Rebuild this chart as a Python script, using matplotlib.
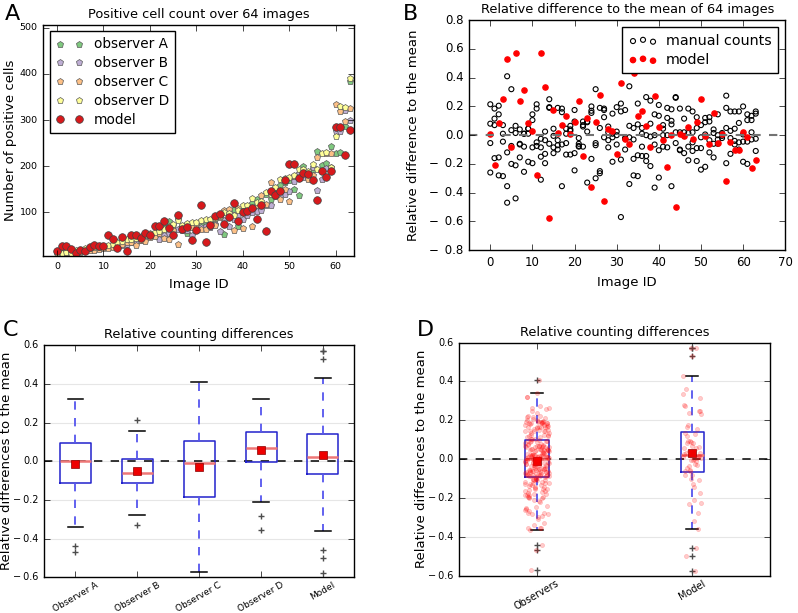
import numpy as np
import matplotlib
matplotlib.use('Agg')
import matplotlib.pyplot as plt
from matplotlib.ticker import FuncFormatter

plt.style.use('classic')
plt.rcParams['font.family'] = ['DejaVu Sans']

# ---- panel A: counts per image (sorted by mean count) ----
model_counts = [16.5, 27, 28, 21, 13, 19.5, 16.5, 25, 30, 27, 27, 50, 42, 23, 46, 16.5,
                51, 50, 45, 55, 52, 71, 70, 82, 66, 52, 95, 65, 68, 40, 61, 115,
                36, 72, 93, 97, 74, 90, 121, 81, 100, 104, 110, 85, 116, 59, 146, 137,
                147, 170, 204, 205, 174, 186, 183, 170, 126, 189, 176, 189, 284, 286, 224, 278]
obs_a_counts = [13, 14, 10, 15, 17, 17, 20, 21, 22, 24, 25, 26, 29, 35, 33, 38,
                38, 42, 45, 50, 52, 55, 62, 68, 81, 72, 85, 70, 56, 75, 70, 72,
                80, 78, 85, 97, 53, 105, 108, 71, 108, 112, 120, 129, 120, 140, 128, 150,
                160, 165, 171, 151, 137, 200, 180, 195, 234, 202, 206, 243, 228, 230, 288, 385]
obs_b_counts = [14, 12, 15, 14, 15, 16, 18, 20, 21, 22, 24, 24, 27, 32, 30, 31,
                35, 38, 40, 44, 48, 50, 42, 50, 55, 60, 65, 62, 62, 50, 62, 68,
                70, 68, 75, 59, 84, 71, 85, 95, 86, 95, 100, 104, 106, 115, 117, 142,
                135, 140, 146, 168, 186, 176, 176, 198, 149, 173, 196, 198, 277, 277, 322, 300]
obs_c_counts = [15, 15, 13, 16, 14, 15, 17, 18, 19, 21, 22, 22, 25, 29, 31, 36,
                36, 30, 41, 39, 47, 49, 55, 45, 43, 62, 31, 68, 75, 68, 75, 65,
                65, 70, 72, 90, 106, 108, 61, 110, 67, 110, 71, 115, 137, 119, 165, 135,
                130, 150, 124, 178, 175, 185, 173, 180, 221, 190, 228, 228, 335, 320, 297, 327]
obs_d_counts = [11, 11, 14, 13, 18, 19, 22, 23, 25, 26, 28, 29, 32, 36, 37, 42,
                42, 44, 48, 52, 55, 58, 60, 65, 70, 75, 83, 72, 78, 80, 80, 84,
                85, 86, 88, 92, 100, 98, 94, 105, 116, 115, 132, 122, 125, 144, 140, 155,
                172, 175, 176, 182, 194, 195, 190, 204, 194, 229, 230, 198, 266, 331, 329, 391]

# ---- panel B: relative difference to the mean, by image ID ----
rel_model = [0.01, -0.21, 0.085, 0.25, 0.53, -0.08, 0.57, 0.24, 0.315, 0.085, 0.03, -0.275,
             0.57, 0.335, -0.575, 0.175, 0.015, 0.07, 0.135, 0.005, 0.095, 0.235, -0.145, 0.12,
             -0.36, 0.09, 0.28, -0.46, 0.04, 0.03, -0.13, 0.36, -0.03, -0.06, 0.43, 0.13,
             0.165, 0.065, -0.08, 0.275, 0.055, -0.035, -0.225, 0.0, -0.5, 0.01, -0.005, 0.055,
             -0.025, 0.095, 0.25, -0.005, -0.06, 0.155, -0.055, 0.005, -0.32, -0.045, -0.105, -0.1,
             0.025, -0.01, -0.23, -0.175]
rel_obs_a = [-0.26, 0.115, 0.145, 0.01, -0.47, 0.32, -0.44, -0.06, 0.01, 0.01, -0.085, -0.05,
             -0.15, -0.13, 0.19, -0.085, -0.035, 0.16, 0.01, 0.03, -0.125, -0.02, 0.07, 0.09,
             -0.165, -0.055, -0.25, 0.185, 0.02, 0.01, 0.195, 0.22, -0.02, -0.34, -0.165, 0.22,
             0.01, -0.18, 0.24, 0.0, -0.295, 0.0, 0.12, 0.1, -0.055, -0.105, 0.02, -0.08,
             0.165, 0.05, -0.24, 0.09, 0.095, -0.155, -0.03, 0.005, 0.275, -0.13, -0.065, -0.1,
             0.2, -0.2, 0.02, 0.15]
rel_obs_b = [-0.055, -0.16, -0.28, -0.045, -0.12, -0.075, 0.015, -0.065, 0.01, -0.185, -0.195, 0.215,
             -0.085, -0.035, -0.06, -0.125, -0.1, -0.065, -0.135, -0.135, 0.095, -0.08, -0.08, -0.33,
             0.155, -0.07, 0.05, 0.125, -0.085, -0.015, 0.025, -0.17, -0.1, -0.015, -0.03, -0.14,
             -0.145, -0.145, -0.01, -0.065, 0.135, -0.08, 0.0, 0.075, 0.02, 0.02, -0.125, 0.015,
             0.02, -0.09, -0.09, 0.005, -0.12, -0.06, -0.06, -0.02, -0.195, 0.03, -0.04, 0.085,
             0.005, 0.105, -0.03, -0.11]
rel_obs_c = [0.215, 0.07, 0.205, -0.285, 0.41, -0.2, 0.065, -0.155, -0.255, 0.045, 0.105, 0.185,
             -0.31, -0.195, 0.195, -0.005, -0.07, -0.355, -0.055, 0.04, -0.245, -0.075, 0.06, 0.025,
             0.17, -0.3, -0.265, 0.175, -0.035, -0.185, 0.0, -0.57, 0.175, 0.34, -0.28, 0.075,
             -0.08, 0.265, -0.215, -0.365, 0.21, 0.045, 0.19, -0.355, 0.265, 0.185, -0.005, -0.175,
             -0.05, -0.18, -0.015, -0.22, -0.035, 0.015, 0.0, -0.005, 0.19, -0.02, 0.045, -0.05,
             -0.185, -0.045, 0.105, -0.025]
rel_obs_d = [0.08, 0.185, -0.155, 0.07, -0.355, 0.035, -0.21, 0.04, -0.08, 0.045, 0.145, -0.075,
             -0.025, 0.025, 0.25, 0.045, 0.19, 0.185, 0.045, 0.065, 0.175, -0.06, 0.095, 0.095,
             0.2, 0.32, 0.19, -0.015, 0.06, 0.15, -0.065, 0.165, -0.025, 0.065, 0.05, -0.285,
             0.05, 0.0, 0.08, 0.145, -0.105, 0.07, -0.085, 0.18, 0.26, -0.1, 0.115, 0.185,
             -0.11, 0.125, 0.07, 0.12, 0.125, 0.04, 0.145, 0.015, 0.05, 0.165, 0.165, 0.165,
             -0.045, 0.145, 0.135, 0.165]

box_labels_c = ['Observer A', 'Observer B', 'Observer C', 'Observer D', 'Model']
box_labels_d = ['Observers', 'Model']
obs_names = ['observer A', 'observer B', 'observer C', 'observer D']
obs_colors = ['#7fc97f', '#beaed4', '#fdc086', '#ffff99']


def minus_fmt(gap):
    # old-style tick labels with a roomy minus sign
    def f(v, pos):
        if v < -1e-9:
            return '\u2212' + gap + '%.1f' % abs(v)
        return '%.1f' % abs(v)
    return FuncFormatter(f)


fig = plt.figure(figsize=(7.98, 6.13), dpi=100, facecolor='white')

# ---------------- A ----------------
axA = fig.add_axes([0.054, 0.582, 0.390, 0.378])
ids = np.arange(len(model_counts))
for counts, name, col in zip([obs_a_counts, obs_b_counts, obs_c_counts, obs_d_counts],
                             obs_names, obs_colors):
    axA.plot(ids, counts, 'p', color=col, markeredgecolor='0.35', markeredgewidth=0.5,
             markersize=5, label=name)
axA.plot(ids, model_counts, 'o', color='#d7191c', markeredgecolor='0.25', markeredgewidth=0.5,
         markersize=5.5, label='model')
axA.set_xlim(-3, 64)
axA.set_ylim(5, 507)
axA.set_yticks([100, 200, 300, 400, 500])
axA.set_title('Positive cell count over 64 images', fontsize=9.3)
axA.set_xlabel('Image ID', fontsize=9.5)
axA.set_ylabel('Number of positive cells', fontsize=9.5)
axA.yaxis.set_label_coords(-0.085, 0.5)
axA.tick_params(labelsize=6.8)
axA.legend(loc='upper left', fontsize=9.8, numpoints=2, handletextpad=0.8, borderpad=0.45,
           labelspacing=0.35, handlelength=2.0)

# ---------------- B ----------------
axB = fig.add_axes([0.588, 0.592, 0.396, 0.375])
manual_x = np.concatenate([ids] * 4)
manual_y = np.concatenate([rel_obs_a, rel_obs_b, rel_obs_c, rel_obs_d])
axB.scatter(manual_x, manual_y, s=13, facecolors='none', edgecolors='black', linewidths=0.8,
            label='manual counts')
axB.scatter(ids, rel_model, s=14, color='red', edgecolors='red', label='model')
axB.axhline(0, color='0.45', ls='--', lw=1.5)
axB.set_xlim(-5, 70)
axB.set_ylim(-0.8, 0.8)
axB.yaxis.set_major_formatter(minus_fmt('\u2002'))
axB.set_title('Relative difference to the mean of 64 images', fontsize=9.3)
axB.set_xlabel('Image ID', fontsize=9.5)
axB.set_ylabel('Relative difference to the mean', fontsize=9.5)
axB.yaxis.set_label_coords(-0.155, 0.5)
axB.tick_params(labelsize=8.5)
axB.legend(loc='upper right', fontsize=10.3, scatterpoints=3, handletextpad=0.6, borderpad=0.45,
           labelspacing=0.35)


def style_box(ax, data, widths):
    ax.yaxis.grid(True, color='0.9', ls='-', lw=0.8)
    ax.set_axisbelow(True)
    ax.axhline(0, color='black', ls='--', lw=1.1, zorder=1)
    ax.boxplot(data, widths=widths, showmeans=True,
               boxprops=dict(color='#2222cc', lw=1.1),
               whiskerprops=dict(color='#5555ee', ls='--', lw=1.3),
               capprops=dict(color='black', lw=1.1),
               medianprops=dict(color='#ee7777', lw=1.8),
               meanprops=dict(marker='s', markerfacecolor='#ee0000', markeredgecolor='#880000',
                              markersize=5.5),
               flierprops=dict(marker='+', markeredgecolor='0.3', markersize=5))
    ax.set_ylim(-0.6, 0.6)
    ax.yaxis.set_major_formatter(minus_fmt('\u2009'))
    ax.set_title('Relative counting differences', fontsize=9.3)
    ax.set_ylabel('Relative differences to the mean', fontsize=9.5)
    ax.yaxis.set_label_coords(-0.1, 0.5)
    ax.tick_params(labelsize=7)


# ---------------- C ----------------
axC = fig.add_axes([0.0555, 0.058, 0.388, 0.379])
style_box(axC, [rel_obs_a, rel_obs_b, rel_obs_c, rel_obs_d, rel_model], 0.5)
axC.set_xlim(0.5, 5.5)
axC.set_xticks(range(1, 6))
axC.set_xticklabels(box_labels_c, rotation=30, fontsize=6.5)
axC.tick_params(axis='x', pad=2)

# ---------------- D ----------------
axD = fig.add_axes([0.5756, 0.061, 0.389, 0.380])
observers_all = np.concatenate([rel_obs_a, rel_obs_b, rel_obs_c, rel_obs_d])
style_box(axD, [observers_all, rel_model], 0.15)
for pos, vals, spread in [(1, observers_all, 0.16), (2, np.array(rel_model), 0.12)]:
    k = np.arange(len(vals))
    offs = ((k * 0.618034) % 1 - 0.5) * spread
    axD.scatter(pos + offs, vals, s=9, color='red', alpha=0.2, edgecolors='red',
                linewidths=0.5, zorder=3)
axD.set_xlim(0.5, 2.5)
axD.set_xticks([1, 2])
axD.set_xticklabels(box_labels_d, rotation=30, fontsize=7)
axD.tick_params(axis='x', pad=2)

for x, y, t in [(0.006, 0.968, 'A'), (0.505, 0.968, 'B'), (0.004, 0.452, 'C'), (0.523, 0.452, 'D')]:
    fig.text(x, y, t, fontsize=16)

fig.savefig('out.png', dpi=100, facecolor='white')
